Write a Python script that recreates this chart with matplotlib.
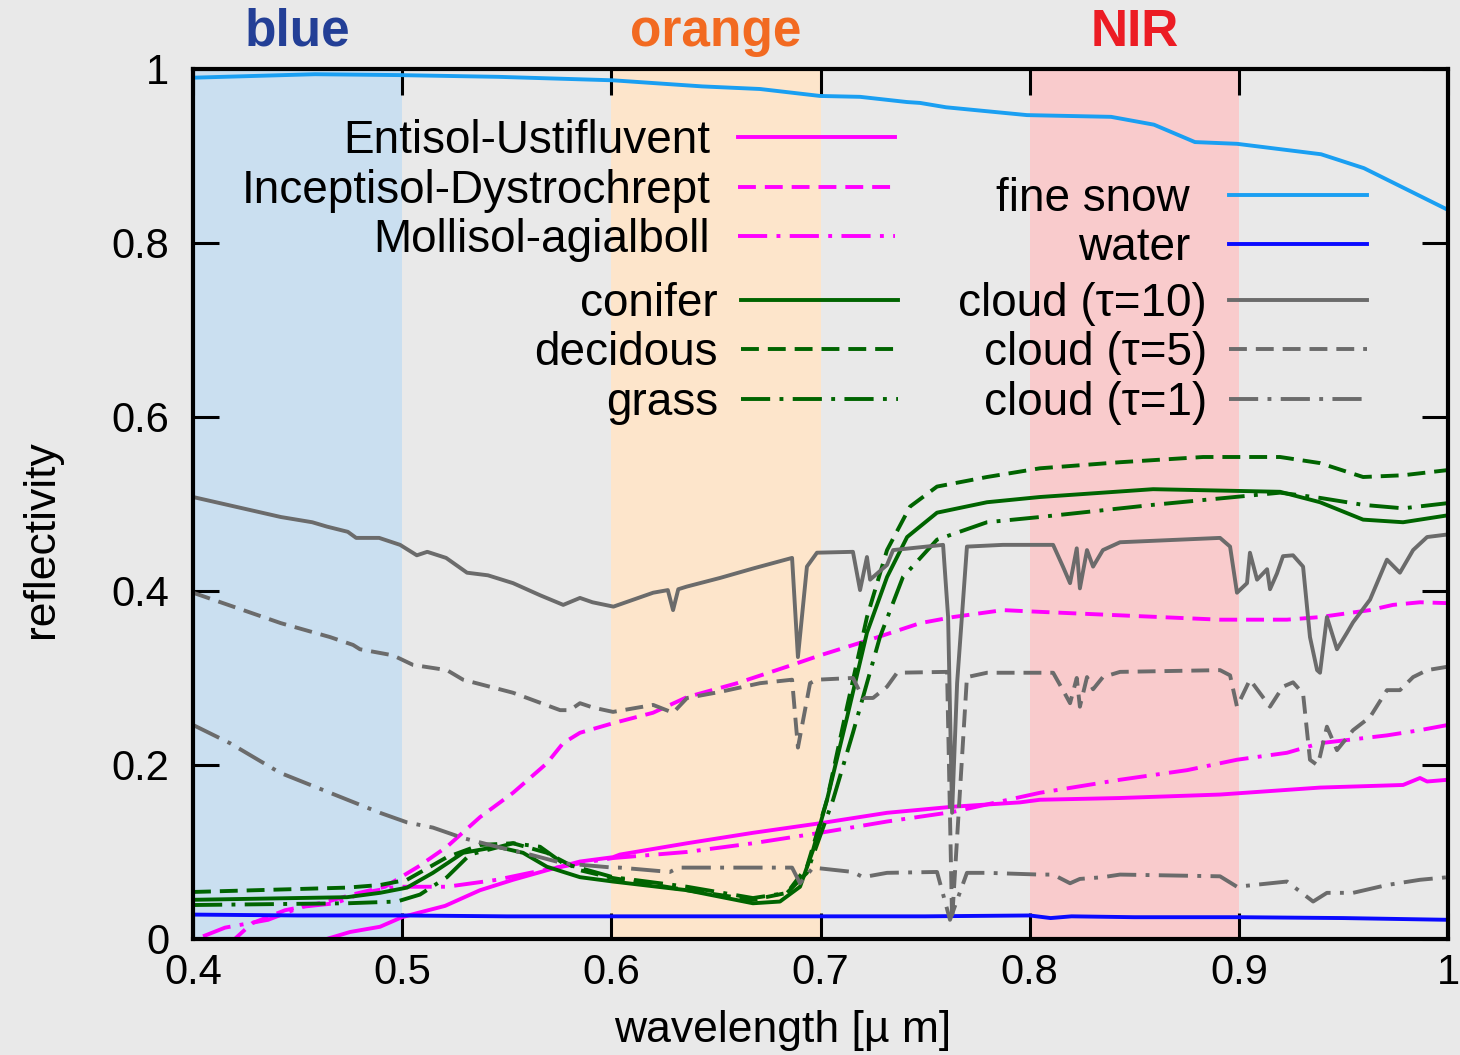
import matplotlib
matplotlib.use("Agg")
import matplotlib.pyplot as plt
import matplotlib.transforms as mtransforms

plt.rcParams['font.family'] = ['Liberation Sans', 'DejaVu Sans']

# --- shaded spectral bands ---
band_names = ["blue", "orange", "NIR"]
band_lo = [0.4, 0.6, 0.8]
band_hi = [0.5, 0.7, 0.9]
band_fill = ["#cadff0", "#fde5cb", "#f9cbcc"]
band_text = ["#233f96", "#f26a21", "#ec1c24"]

# --- soils ---
entisol_wl = [0.4598, 0.4751, 0.4894, 0.4999, 0.5076, 0.5205, 0.5372, 0.553, 0.5692, 0.585,
              0.6008, 0.6041, 0.6362, 0.6677, 0.6998, 0.7318, 0.7633, 0.7954, 0.8049, 0.8432,
              0.891, 0.9388, 0.9785, 0.9866, 0.990, 1.000]
entisol = [-0.003, 0.008, 0.014, 0.025, 0.030, 0.038, 0.056, 0.068, 0.079, 0.089,
           0.094, 0.097, 0.110, 0.122, 0.133, 0.145, 0.152, 0.157, 0.160, 0.162,
           0.166, 0.174, 0.177, 0.185, 0.181, 0.183]

incept_wl = [0.4186, 0.4282, 0.444, 0.4645, 0.476, 0.4918, 0.5076, 0.5214, 0.5372, 0.553,
             0.5692, 0.5769, 0.585, 0.6008, 0.6199, 0.6362, 0.6601, 0.684, 0.6998, 0.7237,
             0.7476, 0.7633, 0.7872, 0.8049, 0.8432, 0.891, 0.923, 0.9388, 0.9627, 0.9737,
             0.9866, 1.000]
incept = [-0.003, 0.018, 0.033, 0.043, 0.051, 0.060, 0.083, 0.106, 0.140, 0.168,
          0.202, 0.225, 0.237, 0.248, 0.260, 0.278, 0.294, 0.313, 0.326, 0.344,
          0.363, 0.370, 0.378, 0.376, 0.372, 0.367, 0.367, 0.370, 0.378, 0.384,
          0.387, 0.386]

mollisol_wl = [0.4048, 0.4153, 0.4359, 0.4521, 0.4679, 0.4813, 0.4975, 0.5214, 0.5453, 0.5611,
               0.585, 0.6008, 0.6362, 0.6677, 0.6998, 0.7318, 0.7633, 0.7954, 0.8049, 0.8432,
               0.8752, 0.8991, 0.923, 0.9388, 0.9708, 0.9866, 1.000]
mollisol = [0.003, 0.013, 0.022, 0.037, 0.041, 0.053, 0.060, 0.060, 0.068, 0.076,
            0.087, 0.093, 0.100, 0.110, 0.122, 0.135, 0.146, 0.163, 0.168, 0.183,
            0.194, 0.206, 0.214, 0.225, 0.234, 0.240, 0.246]

# --- vegetation ---
conifer_wl = [0.400, 0.4736, 0.4894, 0.5023, 0.5147, 0.5291, 0.5453, 0.5578, 0.5692, 0.585,
              0.6008, 0.6362, 0.6677, 0.6806, 0.6902, 0.6964, 0.7031, 0.7127, 0.7222, 0.7318,
              0.7414, 0.7557, 0.7796, 0.8049, 0.859, 0.9197, 0.9388, 0.9594, 0.9785, 1.000]
conifer = [0.045, 0.048, 0.053, 0.059, 0.076, 0.099, 0.106, 0.099, 0.083, 0.071,
           0.066, 0.056, 0.041, 0.043, 0.060, 0.102, 0.160, 0.255, 0.352, 0.416,
           0.462, 0.490, 0.502, 0.508, 0.517, 0.514, 0.502, 0.482, 0.479, 0.487]

decid_wl = [0.400, 0.4736, 0.4894, 0.5023, 0.5214, 0.5372, 0.553, 0.5692, 0.585, 0.6008,
            0.6362, 0.6677, 0.684, 0.6935, 0.7031, 0.7127, 0.7222, 0.7318, 0.7428, 0.7557,
            0.7796, 0.8049, 0.8432, 0.8829, 0.9197, 0.9388, 0.9594, 0.9785, 1.000]
decid = [0.054, 0.059, 0.062, 0.068, 0.094, 0.108, 0.110, 0.099, 0.079, 0.070,
         0.056, 0.045, 0.053, 0.083, 0.160, 0.267, 0.370, 0.447, 0.497, 0.520,
         0.531, 0.541, 0.548, 0.554, 0.554, 0.547, 0.531, 0.533, 0.539]

grass_wl = [0.400, 0.4736, 0.4975, 0.5085, 0.5214, 0.5324, 0.553, 0.5659, 0.5769, 0.6008,
            0.6362, 0.6677, 0.684, 0.6935, 0.706, 0.7155, 0.7284, 0.7394, 0.7557, 0.7796,
            0.8049, 0.859, 0.9197, 0.9388, 0.9594, 0.9785, 1.000]
grass = [0.039, 0.041, 0.043, 0.051, 0.071, 0.097, 0.110, 0.106, 0.087, 0.071,
         0.060, 0.047, 0.053, 0.076, 0.160, 0.237, 0.347, 0.416, 0.459, 0.479,
         0.485, 0.499, 0.513, 0.507, 0.499, 0.495, 0.501]

# --- snow and water ---
snow_wl = [0.400, 0.4583, 0.498, 0.5459, 0.6008, 0.6434, 0.6711, 0.6998, 0.7189, 0.7414,
           0.7476, 0.760, 0.7987, 0.8389, 0.8594, 0.879, 0.8991, 0.9393, 0.9598, 1.000]
snow = [0.990, 0.994, 0.993, 0.991, 0.987, 0.980, 0.977, 0.969, 0.968, 0.962,
        0.961, 0.956, 0.947, 0.945, 0.936, 0.916, 0.914, 0.902, 0.886, 0.838]

water_wl = [0.40, 0.45, 0.50, 0.55, 0.60, 0.65, 0.70, 0.75, 0.80, 0.81, 0.82, 0.85, 0.90, 0.95, 1.00]
water = [0.028, 0.027, 0.027, 0.026, 0.026, 0.026, 0.026, 0.026, 0.027, 0.024, 0.026, 0.025,
         0.025, 0.024, 0.022]

# --- clouds ---
cloud10_wl = [0.400, 0.442, 0.457, 0.464, 0.474, 0.478, 0.489, 0.499, 0.507, 0.512,
              0.521, 0.531, 0.541, 0.553, 0.566, 0.577, 0.585, 0.591, 0.601, 0.620,
              0.627, 0.6295, 0.632, 0.636, 0.652, 0.668, 0.6864, 0.6892, 0.6935, 0.6983,
              0.7155, 0.7189, 0.7222, 0.7237, 0.7318, 0.7347, 0.7586, 0.761, 0.7629, 0.7653,
              0.770, 0.7872, 0.8049, 0.8112, 0.8159, 0.8193, 0.8225, 0.824, 0.8274, 0.8303,
              0.835, 0.8432, 0.891, 0.8958, 0.8991, 0.9039, 0.9053, 0.9087, 0.9135, 0.9149,
              0.9182, 0.9211, 0.9259, 0.9307, 0.934, 0.9374, 0.9388, 0.9421, 0.9469, 0.9517,
              0.9546, 0.9627, 0.9708, 0.977, 0.9833, 0.990, 1.000]
cloud10 = [0.508, 0.485, 0.479, 0.474, 0.468, 0.461, 0.461, 0.453, 0.441, 0.445,
           0.438, 0.421, 0.418, 0.409, 0.395, 0.384, 0.392, 0.387, 0.382, 0.398,
           0.401, 0.378, 0.402, 0.405, 0.415, 0.426, 0.438, 0.324, 0.428, 0.444,
           0.445, 0.401, 0.439, 0.413, 0.430, 0.447, 0.453, 0.370, 0.145, 0.294,
           0.451, 0.453, 0.453, 0.453, 0.428, 0.409, 0.449, 0.403, 0.447, 0.428,
           0.447, 0.456, 0.461, 0.451, 0.398, 0.409, 0.444, 0.413, 0.425, 0.402,
           0.420, 0.440, 0.441, 0.428, 0.347, 0.309, 0.306, 0.370, 0.333, 0.352,
           0.364, 0.390, 0.436, 0.421, 0.447, 0.462, 0.465]

cloud5_wl = [0.400, 0.442, 0.4655, 0.4765, 0.4798, 0.4956, 0.5052, 0.5214, 0.5291, 0.553,
             0.5755, 0.5802, 0.585, 0.5912, 0.6008, 0.620, 0.6295, 0.6362, 0.652, 0.6711,
             0.6864, 0.6892, 0.695, 0.6983, 0.7155, 0.7203, 0.7251, 0.7318, 0.7366, 0.7605,
             0.7629, 0.770, 0.7796, 0.8049, 0.8112, 0.8159, 0.8193, 0.8225, 0.824, 0.8274,
             0.8303, 0.835, 0.8432, 0.891, 0.8958, 0.8991, 0.9053, 0.9149, 0.9211, 0.9259,
             0.9307, 0.934, 0.9374, 0.9388, 0.9421, 0.9469, 0.9546, 0.9627, 0.9708, 0.977,
             0.9833, 0.990, 1.000]
cloud5 = [0.398, 0.363, 0.347, 0.338, 0.333, 0.326, 0.315, 0.309, 0.298, 0.283,
          0.263, 0.263, 0.271, 0.266, 0.261, 0.269, 0.260, 0.277, 0.284, 0.294,
          0.298, 0.220, 0.294, 0.298, 0.300, 0.277, 0.277, 0.290, 0.306, 0.307,
          0.022, 0.301, 0.306, 0.306, 0.306, 0.286, 0.271, 0.300, 0.267, 0.301,
          0.287, 0.301, 0.307, 0.309, 0.303, 0.267, 0.298, 0.267, 0.290, 0.295,
          0.282, 0.206, 0.200, 0.210, 0.244, 0.217, 0.240, 0.255, 0.286, 0.286,
          0.301, 0.309, 0.313]

cloud1_wl = [0.400, 0.4177, 0.4416, 0.4655, 0.4894, 0.5023, 0.5147, 0.5291, 0.5453, 0.5611,
             0.5769, 0.6008, 0.6041, 0.628, 0.632, 0.652, 0.6864, 0.6902, 0.6964, 0.7155,
             0.7203, 0.7318, 0.7557, 0.7619, 0.770, 0.7796, 0.8049, 0.8112, 0.8193, 0.824,
             0.835, 0.8432, 0.891, 0.8991, 0.923, 0.9355, 0.9421, 0.9546, 0.9708, 0.9866, 1.000]
cloud1 = [0.246, 0.225, 0.191, 0.168, 0.145, 0.134, 0.128, 0.116, 0.106, 0.097,
          0.087, 0.082, 0.082, 0.077, 0.082, 0.082, 0.082, 0.064, 0.082, 0.077,
          0.071, 0.076, 0.077, 0.022, 0.076, 0.076, 0.074, 0.074, 0.064, 0.069,
          0.071, 0.074, 0.072, 0.060, 0.066, 0.043, 0.053, 0.053, 0.062, 0.068, 0.071]

x_ticks = [0.4, 0.5, 0.6, 0.7, 0.8, 0.9, 1.0]
x_labels = ["0.4", "0.5", "0.6", "0.7", "0.8", "0.9", "1"]
y_ticks = [0, 0.2, 0.4, 0.6, 0.8, 1.0]
y_labels = ["0", "0.2", "0.4", "0.6", "0.8", "1"]

MAGENTA = "#ff00ff"
GREEN = "#006400"
GRAY = "#6b6b6b"
SNOW = "#1a9ff2"
WATER = "#0a0aff"
BG = "#e9e9e9"
LW = 2.8
DASH = (4.6, 2.3)
DASHDOT = (7.5, 2.4, 1.0, 2.4)

fig = plt.figure(figsize=(14.6, 10.55), dpi=100, facecolor=BG)
ax = fig.add_axes([0.1322, 0.1100, 0.8596, 0.8246], facecolor=BG)

for lo, hi, c in zip(band_lo, band_hi, band_fill):
    ax.axvspan(lo, hi, color=c, lw=0, zorder=0)

l_ent, = ax.plot(entisol_wl, entisol, color=MAGENTA, lw=LW)
l_inc, = ax.plot(incept_wl, incept, color=MAGENTA, lw=LW, dashes=DASH)
l_mol, = ax.plot(mollisol_wl, mollisol, color=MAGENTA, lw=LW, dashes=DASHDOT)
l_con, = ax.plot(conifer_wl, conifer, color=GREEN, lw=LW)
l_dec, = ax.plot(decid_wl, decid, color=GREEN, lw=LW, dashes=DASH)
l_gra, = ax.plot(grass_wl, grass, color=GREEN, lw=LW, dashes=DASHDOT)
l_snow, = ax.plot(snow_wl, snow, color=SNOW, lw=LW)
l_wat, = ax.plot(water_wl, water, color=WATER, lw=LW)
l_c10, = ax.plot(cloud10_wl, cloud10, color=GRAY, lw=LW)
l_c5, = ax.plot(cloud5_wl, cloud5, color=GRAY, lw=LW, dashes=DASH)
l_c1, = ax.plot(cloud1_wl, cloud1, color=GRAY, lw=LW, dashes=DASHDOT)

ax.set_xlim(0.4, 1.0)
ax.set_ylim(0, 1)
ax.set_xticks(x_ticks, x_labels)
ax.set_yticks(y_ticks, y_labels)
ax.tick_params(direction="in", length=19, width=2.2, top=True, right=True, labelsize=30)
ax.tick_params(axis="x", pad=10)
ax.tick_params(axis="y", pad=17)
for sp in ax.spines.values():
    sp.set_linewidth(3)

ax.set_xlabel("wavelength [µ m]", fontsize=32)
ax.xaxis.set_label_coords(0.47, -0.082)
ax.set_ylabel("reflectivity", fontsize=32)
ax.yaxis.set_label_coords(-0.104, 0.46)

# band names above the frame (x in data, y in figure fraction)
above = mtransforms.blended_transform_factory(ax.transData, fig.transFigure)
for name, lo, hi, c in zip(band_names, band_lo, band_hi, band_text):
    ax.text((lo + hi) / 2, 0.9565, name, transform=above, color=c, fontsize=37,
            fontweight="bold", ha="center", va="baseline", clip_on=False)

# keys, gnuplot style: text right-aligned, sample line on the right
def key(handles, labels, right, mid, pad, hlen):
    fig.legend(handles, labels, loc="center right", bbox_to_anchor=(right, mid),
               markerfirst=False, frameon=False, fontsize=33, handlelength=hlen,
               handletextpad=pad, labelspacing=0.12, borderpad=0, borderaxespad=0)

key([l_ent, l_inc, l_mol], ["Entisol-Ustifluvent", "Inceptisol-Dystrochrept", "Mollisol-agialboll"],
    0.613, 0.819, 0.6, 3.43)
key([l_con, l_dec, l_gra], ["conifer", "decidous", "grass"], 0.615, 0.665, 0.5, 3.43)
key([l_snow, l_wat], ["fine snow", "water"], 0.936, 0.788, 0.85, 3.0)
key([l_c10, l_c5, l_c1], ["cloud (τ=10)", "cloud (τ=5)", "cloud (τ=1)"], 0.936, 0.665, 0.48, 3.0)

fig.savefig("out.png", dpi=100, facecolor=BG)
